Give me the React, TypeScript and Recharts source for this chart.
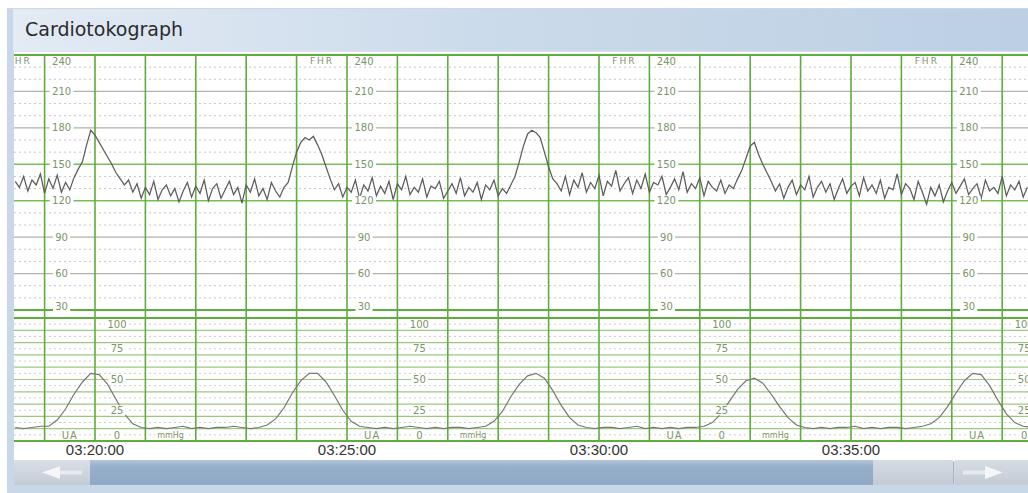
import { LineChart, Line, XAxis, YAxis, ReferenceLine, ReferenceDot } from "recharts";

// time is kept as minutes past 03:00, first sample at 03:18:25
const startMinute = 18 + 25 / 60;
const fhrStepSec = 5;
const uaStepSec = 10;

// fetal heart rate (bpm), one reading every 5 s
const fhrValues = [
  136, 131, 140, 128, 137, 133, 142, 126, 138, 130, 141, 127, 135, 129, 139,
  146, 152, 166, 178, 174, 168, 162, 156, 150, 143, 138, 133, 137,
  127, 134, 122, 131, 125, 136, 121, 129, 133, 124, 130, 119, 128, 135, 123, 132, 126, 137, 120, 130,
  134, 122, 129, 136, 125, 131, 118, 133, 127, 138, 124, 130, 121, 135, 128, 123, 131,
  135, 148, 160, 168, 172, 170, 173, 166, 158, 148, 138,
  129, 134, 123, 131, 127, 137, 122, 133, 128, 139, 124, 132, 126, 136, 121, 134, 129, 140, 125, 131,
  127, 138, 123, 132, 130, 136, 122, 128, 134, 126, 139, 124, 131, 127, 135, 121, 133, 129, 137, 124,
  130, 126, 133,
  140, 152, 165, 175, 178, 176, 172, 160, 148, 138,
  134, 128, 140, 125, 137, 131, 143, 127, 135, 130, 141, 124, 136, 132, 145, 128, 134, 139, 126, 137,
  130, 142, 127, 135, 133, 140, 125, 131, 138, 129, 144, 127, 134, 130, 139, 124, 136, 131, 128, 137,
  126, 133, 130,
  138, 145, 155, 165, 168, 158, 150, 143, 136,
  128, 134, 122, 131, 137, 125, 133, 129, 140, 123, 131, 136, 127, 134, 121, 130, 138, 126, 132, 135,
  124, 139, 128, 133, 126, 137, 122, 131, 129, 142, 125, 134, 130, 121, 136, 127, 117, 131, 124, 133,
  119, 128, 135, 126, 132, 138, 125, 130, 134, 122, 137, 128, 131, 126, 140, 124, 133, 129, 136, 123,
  131,
];

// uterine activity (mmHg), one reading every 10 s
const uaValues = [
  11, 10, 11, 12,
  12, 17, 26, 38, 48, 55, 54, 46, 34, 22, 14, 11,
  10, 11, 10, 11, 12, 10, 11, 10, 11, 11, 12, 11, 10, 11,
  13, 18, 27, 39, 49, 55, 55, 48, 37, 25, 16, 12,
  11, 10, 11, 10, 11, 12, 11, 10, 11, 10, 11, 11, 10, 11,
  12, 16, 24, 36, 46, 53, 55, 51, 41, 29, 19, 13,
  11, 10, 11, 11, 10, 11, 12, 10, 11, 10, 11, 10, 11, 11,
  12, 15, 22, 32, 42, 49, 51, 47, 38, 28, 19, 13,
  11, 10, 11, 10, 11, 11, 12, 10, 11, 10, 11, 11, 10, 11,
  12, 14, 19, 28, 39, 49, 55, 54, 45, 33, 22, 15, 12, 11,
];

const minuteLines = [19, 20, 21, 22, 23, 24, 25, 26, 27, 28, 29, 30, 31, 32, 33, 34, 35, 36, 37, 38];
const timeTicks = [20, 25, 30, 35];

const fhrScale = [240, 210, 180, 150, 120, 90, 60, 30];
const fhrNormal = [150, 120];
const fhrGray = [210, 180, 90, 60];
const fhrDotted = [230, 220, 200, 190, 170, 160, 140, 130, 110, 100, 80, 70, 50, 40];
const fhrLabelCols = [19, 25, 31, 37];

const uaScale = [100, 75, 50, 25, 0];
const uaSolid = [10, 20, 30, 40, 50, 60, 70, 80, 90];
const uaDotted = [5, 15, 25, 35, 45, 55, 65, 75, 85, 95];
const uaLabelCols = [20, 26, 32, 38];

const fhrData = fhrValues.map((v, i) => ({ t: startMinute + (i * fhrStepSec) / 60, fhr: v }));
const uaData = uaValues.map((v, i) => ({ t: startMinute + (i * uaStepSec) / 60, ua: v }));

const X_DOMAIN: [number, number] = [18.393, 38.512];
const CHART_W = 1014;
const GREEN = "#5fae3d";
const LABEL = "#7a9468";

const label =
  (text: string, dx: number, dy: number, opts: { size?: number; spacing?: number; w?: number } = {}) =>
  (props: any) => {
    const { cx, cy } = props;
    const size = opts.size ?? 10;
    const w = opts.w ?? text.length * size * 0.66 + 4;
    return (
      <g>
        <rect x={cx + dx - w / 2} y={cy + dy - size / 2} width={w} height={size} fill="#fff" />
        <text
          x={cx + dx}
          y={cy + dy}
          dy="0.36em"
          textAnchor="middle"
          fontSize={size}
          letterSpacing={opts.spacing ?? 0}
          fontFamily="DejaVu Sans, sans-serif"
          fill={LABEL}
        >
          {text}
        </text>
      </g>
    );
  };

function FhrChart() {
  return (
    <LineChart width={CHART_W} height={267} data={fhrData} margin={{ top: 2, right: 0, bottom: 2, left: 0 }}>
      <XAxis dataKey="t" type="number" domain={X_DOMAIN} allowDataOverflow hide />
      <YAxis type="number" domain={[23.41, 240]} allowDataOverflow hide />
      {fhrDotted.map((v) => (
        <ReferenceLine key={"d" + v} y={v} stroke="#c6c6c6" strokeDasharray="2 3" />
      ))}
      {fhrGray.map((v) => (
        <ReferenceLine key={"g" + v} y={v} stroke="#b0b3a8" strokeWidth={1.3} />
      ))}
      {fhrNormal.map((v) => (
        <ReferenceLine key={"n" + v} y={v} stroke="#76bf55" strokeWidth={1.6} />
      ))}
      <ReferenceLine y={240} stroke={GREEN} strokeWidth={2} />
      <ReferenceLine y={30} stroke={GREEN} strokeWidth={2} />
      {minuteLines.map((m) => (
        <ReferenceLine key={"m" + m} x={m} stroke={GREEN} strokeWidth={1.6} />
      ))}
      {fhrLabelCols.map((c) =>
        fhrScale.map((v) => (
          <ReferenceDot
            key={c + "-" + v}
            x={c}
            y={v}
            r={0}
            shape={label(String(v), 17, v === 240 ? 6 : v === 30 ? -4 : 0)}
          />
        ))
      )}
      {fhrLabelCols.map((c) => (
        <ReferenceDot key={"fhr" + c} x={c} y={240} r={0} shape={label("FHR", -25, 6, { size: 9, spacing: 2, w: 26 })} />
      ))}
      <Line dataKey="fhr" stroke="#5c5c5c" strokeWidth={1.25} dot={false} isAnimationActive={false} />
    </LineChart>
  );
}

function UaChart() {
  return (
    <LineChart width={CHART_W} height={145} data={uaData} margin={{ top: 2, right: 0, bottom: 0, left: 0 }}>
      <XAxis
        dataKey="t"
        type="number"
        domain={X_DOMAIN}
        allowDataOverflow
        ticks={timeTicks}
        tickFormatter={(m: number) => `03:${m}:00`}
        axisLine={false}
        tickLine={false}
        tickSize={0}
        tickMargin={3}
        height={20}
        tick={{ fontSize: 15, fill: "#333", fontFamily: "Liberation Sans, sans-serif" }}
      />
      <YAxis type="number" domain={[0, 100]} allowDataOverflow hide />
      {uaDotted.map((v) => (
        <ReferenceLine key={"d" + v} y={v} stroke="#cfcfc8" strokeDasharray="2 3" />
      ))}
      {uaSolid.map((v) => (
        <ReferenceLine key={"s" + v} y={v} stroke="#9cc981" strokeWidth={1.2} />
      ))}
      <ReferenceLine y={100} stroke={GREEN} strokeWidth={2} />
      <ReferenceLine y={0} stroke={GREEN} strokeWidth={2} />
      {minuteLines.map((m) => (
        <ReferenceLine key={"m" + m} x={m} stroke={GREEN} strokeWidth={1.6} />
      ))}
      {uaLabelCols.map((c) =>
        uaScale.map((v) => (
          <ReferenceDot
            key={c + "-" + v}
            x={c}
            y={v}
            r={0}
            shape={label(String(v), 22, v === 100 ? 6 : v === 0 ? -6 : 0)}
          />
        ))
      )}
      {uaLabelCols.map((c) => (
        <ReferenceDot key={"ua" + c} x={c - 0.5} y={0} r={0} shape={label("UA", 0, -6, { spacing: 1, w: 18 })} />
      ))}
      {uaLabelCols.map((c) => (
        <ReferenceDot key={"mm" + c} x={c + 1.5} y={0} r={0} shape={label("mmHg", 0, -6, { size: 8, w: 30 })} />
      ))}
      <Line dataKey="ua" stroke="#767676" strokeWidth={1.2} dot={false} isAnimationActive={false} />
    </LineChart>
  );
}

export default function App() {
  return (
    <div style={{ position: "relative", width: 1028, height: 493, overflow: "hidden", background: "#fff" }}>
      <style>{"body{margin:0}"}</style>
      {/* window frame */}
      <div style={{ position: "absolute", left: 7, top: 8, width: 1030, height: 490, background: "#c9d8e9" }} />
      <div style={{ position: "absolute", left: 14, top: 52, width: 1020, height: 409, background: "#fff" }} />
      {/* title bar */}
      <div
        style={{
          position: "absolute",
          left: 13,
          top: 9,
          width: 1020,
          height: 42,
          background: "linear-gradient(to right, #e3ebf4 0%, #ccdbeb 45%, #bccfe3 100%)",
          borderBottom: "1px solid #d9e4ef",
        }}
      >
        <span
          style={{
            position: "absolute",
            left: 12,
            top: 9,
            fontFamily: "DejaVu Sans, sans-serif",
            fontSize: 19,
            color: "#2b2b2b",
          }}
        >
          Cardiotokograph
        </span>
      </div>
      <div style={{ position: "absolute", left: 14, top: 53 }}>
        <FhrChart />
      </div>
      <div style={{ position: "absolute", left: 14, top: 316 }}>
        <UaChart />
      </div>
      {/* scroll bar */}
      <div
        style={{
          position: "absolute",
          left: 14,
          top: 460,
          width: 76,
          height: 25,
          background: "linear-gradient(#d9dfe6, #c3cbd5)",
        }}
      >
        <svg width={76} height={25}>
          <polygon points="28,12.5 46,6 46,19" fill="#f4f6f8" />
          <rect x={46} y={10.5} width={22} height={4} fill="#e6eaef" />
        </svg>
      </div>
      <div
        style={{
          position: "absolute",
          left: 90,
          top: 460,
          width: 783,
          height: 25,
          background: "linear-gradient(#b4c6d9 0%, #97afca 25%, #8ea8c5 100%)",
        }}
      />
      <div
        style={{
          position: "absolute",
          left: 873,
          top: 460,
          width: 80,
          height: 25,
          background: "linear-gradient(#d6dce3, #c4cbd4)",
        }}
      />
      <div style={{ position: "absolute", left: 953, top: 462, width: 1, height: 22, background: "#a9b3bf" }} />
      <div
        style={{
          position: "absolute",
          left: 955,
          top: 460,
          width: 80,
          height: 25,
          background: "linear-gradient(#d6dce3, #c4cbd4)",
        }}
      >
        <svg width={80} height={25}>
          <rect x={8} y={10.5} width={22} height={4} fill="#e6eaef" />
          <polygon points="48,12.5 30,6 30,19" fill="#f4f6f8" />
        </svg>
      </div>
    </div>
  );
}
